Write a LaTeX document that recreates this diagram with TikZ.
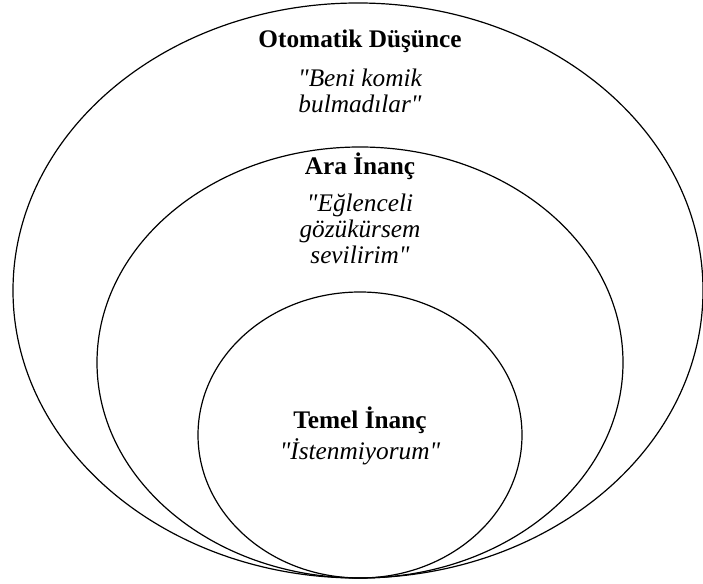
\documentclass[tikz,border=0pt]{standalone}
\usepackage{fontspec}
\setmainfont{Liberation Serif}
\usetikzlibrary{positioning,shapes.geometric}

\newcommand{\dq}{\textquotedbl}

\tikzset{
    ring/.style = {draw, ellipse, line width=1.2pt, inner sep=0pt},
    title/.style = {inner sep=0pt, font=\fontsize{25.3}{27}\selectfont\bfseries},
    quote/.style = {inner sep=0pt, align=center, font=\fontsize{25.3}{26}\selectfont\itshape}
}

\begin{document}
\begin{tikzpicture}[x=1pt, y=1pt]
\useasboundingbox (0,0) rectangle (703,583);
% the three beliefs, nested
\node [ring, minimum width=690pt, minimum height=575pt] (outer) at (358,292.5) {};
\node [ring, minimum width=526pt, minimum height=431pt] (middle) at (360,220.5) {};
\node [ring, minimum width=324pt, minimum height=286pt] (inner) at (360,148) {};

\node [title, anchor=base] (oto) at (360,535) {Otomatik Düşünce};
\node [quote, below=15pt of oto] (otoq) {\dq Beni komik\\bulmadılar\dq};

\node [title, anchor=base] (ara) at (360,408) {Ara İnanç};
\node [quote, below=13pt of ara] (araq) {\dq Eğlenceli\\gözükürsem\\sevilirim\dq};

\node [title, anchor=base] (temel) at (360,154) {Temel İnanç};
\node [quote, below=4pt of temel] (temelq) {\dq İstenmiyorum\dq};
\end{tikzpicture}
\end{document}
